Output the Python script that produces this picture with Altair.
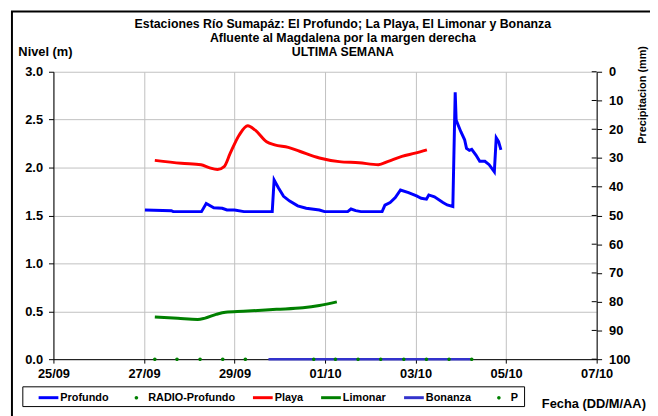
import altair as alt
import pandas as pd

FONT = "Liberation Sans"

# ---------------- data ----------------
series_names = ["Profundo", "RADIO-Profundo", "Playa", "Limonar", "Bonanza", "P"]
series_colors = ["#0000FF", "#008000", "#FF0000", "#008000", "#3333CC", "#008000"]
LINE_SHAPE = "M-1,-0.15H1V0.15H-1Z"
DOT_SHAPE = "M-0.18,0A0.18,0.18 0 1,0 0.18,0A0.18,0.18 0 1,0 -0.18,0Z"
series_shapes = [LINE_SHAPE, DOT_SHAPE, LINE_SHAPE, LINE_SHAPE, LINE_SHAPE, DOT_SHAPE]

profundo_t = [
    "2012-09-27T00:30", "2012-09-27T14:30", "2012-09-27T15:30", "2012-09-28T06:30",
    "2012-09-28T09:00", "2012-09-28T13:00", "2012-09-28T17:30", "2012-09-28T20:00",
    "2012-09-29T00:00", "2012-09-29T05:00", "2012-09-29T20:00", "2012-09-29T21:00",
    "2012-09-29T23:15", "2012-09-30T02:00", "2012-09-30T05:15", "2012-09-30T09:30",
    "2012-09-30T14:00", "2012-09-30T21:00", "2012-09-30T23:45", "2012-10-01T12:00",
    "2012-10-01T13:45", "2012-10-01T16:15", "2012-10-01T19:00", "2012-10-02T06:15",
    "2012-10-02T07:45", "2012-10-02T10:30", "2012-10-02T13:15", "2012-10-02T16:00",
    "2012-10-02T20:15", "2012-10-03T00:30", "2012-10-03T03:00", "2012-10-03T05:45",
    "2012-10-03T07:00", "2012-10-03T10:00", "2012-10-03T14:30", "2012-10-03T16:45",
    "2012-10-03T19:45", "2012-10-03T21:00", "2012-10-03T21:30", "2012-10-04T00:00",
    "2012-10-04T02:00", "2012-10-04T03:00", "2012-10-04T04:30", "2012-10-04T05:45",
    "2012-10-04T08:00", "2012-10-04T10:00", "2012-10-04T12:45", "2012-10-04T15:00",
    "2012-10-04T17:45", "2012-10-04T18:45", "2012-10-04T20:00", "2012-10-04T21:15",
]
profundo_v = [
    1.557, 1.55, 1.54, 1.54,
    1.625, 1.58, 1.575, 1.557,
    1.557, 1.54, 1.54, 1.87,
    1.79, 1.70, 1.65, 1.60,
    1.575, 1.557, 1.54, 1.54,
    1.567, 1.55, 1.54, 1.54,
    1.608, 1.635, 1.687, 1.766,
    1.738, 1.704, 1.68, 1.67,
    1.714, 1.694, 1.635, 1.61,
    1.594, 2.786, 2.495, 2.374,
    2.29, 2.20, 2.18, 2.19,
    2.13, 2.065, 2.065, 2.03,
    1.955, 2.31, 2.27, 2.185,
]

playa_t = [
    "2012-09-27T05:45", "2012-09-27T19:45", "2012-09-28T06:15", "2012-09-28T10:30",
    "2012-09-28T15:00", "2012-09-28T18:30", "2012-09-28T21:45", "2012-09-29T02:30",
    "2012-09-29T07:00", "2012-09-29T11:00", "2012-09-29T17:00", "2012-09-29T21:15",
    "2012-09-30T04:30", "2012-09-30T10:30", "2012-09-30T21:00", "2012-10-01T07:30",
    "2012-10-01T18:00", "2012-10-02T04:15", "2012-10-02T09:30", "2012-10-02T16:45",
    "2012-10-02T23:45", "2012-10-03T06:00",
]
playa_v = [
    2.075, 2.044, 2.03, 2.00,
    1.98, 2.01, 2.15, 2.34,
    2.436, 2.39, 2.27, 2.237,
    2.21, 2.17, 2.10, 2.062,
    2.05, 2.03, 2.065, 2.116,
    2.15, 2.185,
]

limonar_t = [
    "2012-09-27T05:45", "2012-09-27T18:00", "2012-09-28T04:30", "2012-09-28T08:00",
    "2012-09-28T14:15", "2012-09-28T19:15", "2012-09-29T04:45", "2012-09-29T22:15",
    "2012-09-30T12:15", "2012-09-30T21:00", "2012-10-01T06:15",
]
limonar_v = [0.44, 0.426, 0.415, 0.426, 0.467, 0.49, 0.50, 0.52, 0.536, 0.56, 0.598]

bonanza_t = ["2012-09-29T18:00", "2012-10-04T05:15"]
bonanza_v = [0.0, 0.0]

p_t = [
    "2012-09-27T05:45", "2012-09-27T17:30", "2012-09-28T05:45", "2012-09-28T17:45",
    "2012-09-29T05:45", "2012-09-30T18:00", "2012-10-01T05:30", "2012-10-01T17:30",
    "2012-10-02T05:30", "2012-10-02T17:45", "2012-10-03T05:45", "2012-10-03T17:45",
    "2012-10-04T05:45",
]
p_v = [0.0] * len(p_t)

x_tick_days = [(2012, 9, 25), (2012, 9, 27), (2012, 9, 29), (2012, 10, 1),
               (2012, 10, 3), (2012, 10, 5), (2012, 10, 7)]
y_ticks = [0.0, 0.5, 1.0, 1.5, 2.0, 2.5, 3.0]
precip_ticks = [0, 10, 20, 30, 40, 50, 60, 70, 80, 90, 100]

title_lines = [
    "Estaciones Río Sumapáz: El Profundo; La Playa, El Limonar y Bonanza",
    "Afluente al Magdalena por la margen derecha",
    "ULTIMA SEMANA",
]

# ---------------- tables ----------------
def frame(name, t, v):
    return pd.DataFrame({"t": t, "v": v, "series": name})

df = pd.concat([
    frame("Profundo", profundo_t, profundo_v),
    frame("Playa", playa_t, playa_v),
    frame("Limonar", limonar_t, limonar_v),
    frame("Bonanza", bonanza_t, bonanza_v),
    frame("P", p_t, p_v),
], ignore_index=True)

W, H = 550, 291

x_enc = alt.X(
    "t:T",
    scale=alt.Scale(domain=[alt.DateTime(year=2012, month=9, date=25),
                            alt.DateTime(year=2012, month=10, date=7)]),
    axis=alt.Axis(
        values=[alt.DateTime(year=y, month=m, date=d) for (y, m, d) in x_tick_days],
        format="%d/%m", title="Fecha (DD/M/AA)", labelFlush=False, labelOverlap=False,
        labelFont=FONT, labelFontSize=13, labelFontWeight="bold", labelColor="black",
        labelPadding=5, tickSize=4, tickColor="black", domainColor="black",
        grid=True, gridColor="#C0C0C0", gridWidth=1,
        titleFont=FONT, titleFontSize=13, titleFontWeight="bold", titleColor="black",
        titleX=494, titleY=45, titleAlign="left", titleBaseline="middle",
    ),
)
y_enc = alt.Y(
    "v:Q",
    scale=alt.Scale(domain=[0, 3]),
    axis=alt.Axis(
        orient="left", values=y_ticks, format=".1f", title="Nivel (m)",
        labelFlush=False, labelOverlap=False,
        labelFont=FONT, labelFontSize=13, labelFontWeight="bold", labelColor="black",
        labelPadding=6, tickSize=5, tickColor="black", domainColor="black",
        grid=True, gridColor="#C0C0C0", gridWidth=1,
        titleFont=FONT, titleFontSize=13, titleFontWeight="bold", titleColor="black",
        titleAngle=0, titleX=-36, titleY=-16, titleAlign="left",
        titleBaseline="alphabetic",
    ),
)

base = alt.Chart(df).encode(x=x_enc, y=y_enc)

def line_layer(name, width, interp):
    color = series_colors[series_names.index(name)]
    return base.transform_filter(alt.datum.series == name).mark_line(
        color=color, strokeWidth=width, interpolate=interp
    )

legend = alt.Legend(
    orient="none", legendX=-15, legendY=320, direction="horizontal", columns=6,
    title=None, labelFont=FONT, labelFontSize=11, labelFontWeight="bold",
    labelColor="black", symbolSize=400, labelOffset=2, columnPadding=18,
    padding=0, symbolStrokeWidth=0, symbolOpacity=1, labelLimit=200,
)

points = base.transform_filter(alt.datum.series == "P").mark_point(
    filled=True, size=400, opacity=1
).encode(
    color=alt.Color("series:N", scale=alt.Scale(domain=series_names, range=series_colors),
                    legend=legend),
    shape=alt.Shape("series:N", scale=alt.Scale(domain=series_names, range=series_shapes),
                    legend=legend),
)

nivel = alt.layer(
    line_layer("Bonanza", 2.5, "linear"),
    line_layer("Profundo", 3, "linear"),
    line_layer("Playa", 3, "monotone"),
    line_layer("Limonar", 3, "monotone"),
    points,
)

precip = alt.Chart(pd.DataFrame({"mm": precip_ticks})).mark_rule(
    color="black", strokeWidth=1
).encode(
    y=alt.Y("mm:Q", scale=alt.Scale(domain=[0, 100], reverse=True),
            axis=alt.Axis(
                orient="right", values=precip_ticks, title="Precipitacion (mm)",
                labelFlush=False, labelOverlap=False,
                labelFont=FONT, labelFontSize=13, labelFontWeight="bold",
                labelColor="black", labelPadding=7, tickSize=5, tickColor="black",
                domainColor="black", grid=False,
                titleFont=FONT, titleFontSize=11, titleFontWeight="bold",
                titleColor="black", titleAngle=270, titleX=46, titleY=23,
                titleAlign="center", titleBaseline="middle",
            )),
    x=alt.value(W - 5), x2=alt.value(W),
)

one = alt.Data(values=[{"a": 1}])

outer_frame = alt.Chart(one).mark_rect(
    fill="white", fillOpacity=0, stroke="black", strokeWidth=2
).encode(x=alt.value(-42), y=alt.value(-61), x2=alt.value(W + 200), y2=alt.value(H + 200))

legend_box = alt.Chart(one).mark_rect(
    fill="white", stroke="black", strokeWidth=1
).encode(x=alt.value(-31), y=alt.value(319), x2=alt.value(477), y2=alt.value(339))

title_y = [-44, -30, -16]
titles = [
    alt.Chart(one).mark_text(
        text=txt, font=FONT, fontSize=12.5, fontWeight="bold", color="black",
        align="center", baseline="alphabetic",
    ).encode(x=alt.value(293), y=alt.value(yy))
    for txt, yy in zip(title_lines, title_y)
]

chart = alt.layer(outer_frame, legend_box, nivel, precip, *titles).resolve_scale(
    y="independent"
).properties(
    width=W, height=H,
    autosize=alt.AutoSizeParams(type="none"),
    padding={"left": 46, "top": 62, "right": 54, "bottom": 55},
).configure_view(strokeWidth=0)

chart.save("out.html", embed_options={"renderer": "svg", "actions": False})
